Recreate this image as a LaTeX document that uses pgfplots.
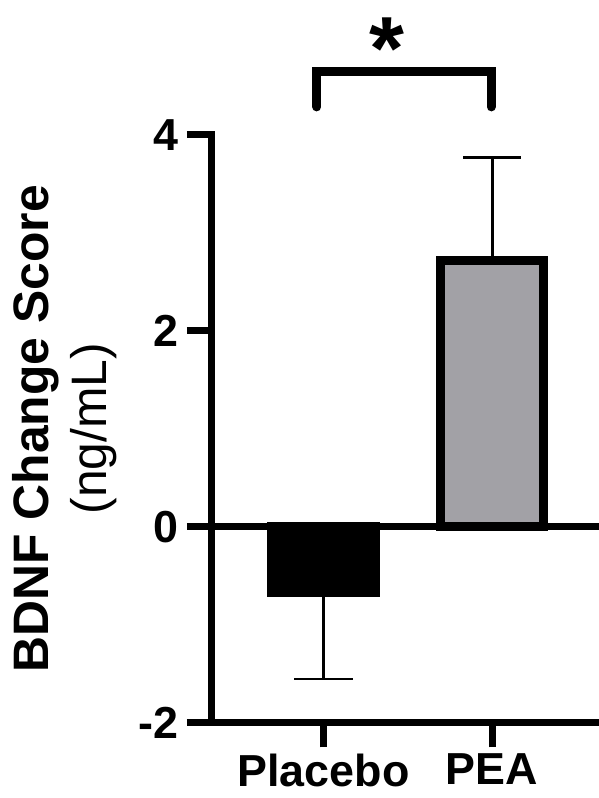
\documentclass[border=0pt]{standalone}
\usepackage{fontspec}
\setmainfont{Liberation Sans}
\usepackage{pgfplots}
\pgfplotsset{compat=1.18}
\definecolor{peagray}{RGB}{162,161,166}
\begin{document}
\begin{tikzpicture}
\begin{axis}[
  name=ax,
  scale only axis,
  width=387bp, height=587.5bp,
  xmin=-0.6617, xmax=1.635,
  ymin=-2, ymax=4,
  clip=false,
  axis x line=bottom, axis y line=left,
  axis line style={-, line width=7bp, line cap=rect},
  tick align=outside,
  major tick length=25bp,
  tick style={line width=7bp, black},
  xtick={0,1}, xticklabels={Placebo,PEA},
  ytick={-2,0,2,4}, yticklabels={-2,0,2,4},
  ticklabel style={font=\fontsize{45}{54}\selectfont\bfseries, inner sep=0pt},
  xticklabel style={anchor=north, yshift=-6bp},
  yticklabel style={anchor=east, xshift=-8bp},
  ylabel={\textbf{BDNF Change Score}\\(ng/mL)},
  ylabel style={at={(axis description cs:-0.2455,0.5)}, anchor=south, inner sep=0pt, align=center, font=\fontsize{50}{58}\selectfont},
  ybar,
]
\draw[line width=7bp] (axis cs:-0.6617,0) -- (axis cs:1.635,0);
\addplot[bar shift=0pt, bar width=104bp, fill=black, draw=black, line width=9bp,
  error bars/.cd, y dir=minus, y explicit,
  error bar style={line width=2.5bp, black},
  error mark options={rotate=90, mark size=29.5bp, line width=2.5bp, black}]
  coordinates {(0,-0.67) +- (0,0.884)};
\addplot[bar shift=0pt, bar width=103bp, fill=peagray, draw=black, line width=9bp,
  error bars/.cd, y dir=plus, y explicit,
  error bar style={line width=3bp, black},
  error mark options={rotate=90, mark size=29bp, line width=3bp, black}]
  coordinates {(1,2.72) +- (0,1.052)};
\draw[line width=9bp, line cap=round, line join=miter]
  (axis cs:-0.039,4.287) -- (axis cs:-0.039,4.648) -- (axis cs:0.995,4.648) -- (axis cs:0.995,4.287);
\node[font=\fontsize{90}{100}\selectfont\bfseries, inner sep=0pt, anchor=center] at (axis cs:0.374,4.88) {*};
\end{axis}
\pgfresetboundingbox
\path (ax.south west) ++(-212bp,-75.5bp) rectangle ++(599bp,798bp);
\end{tikzpicture}
\end{document}
